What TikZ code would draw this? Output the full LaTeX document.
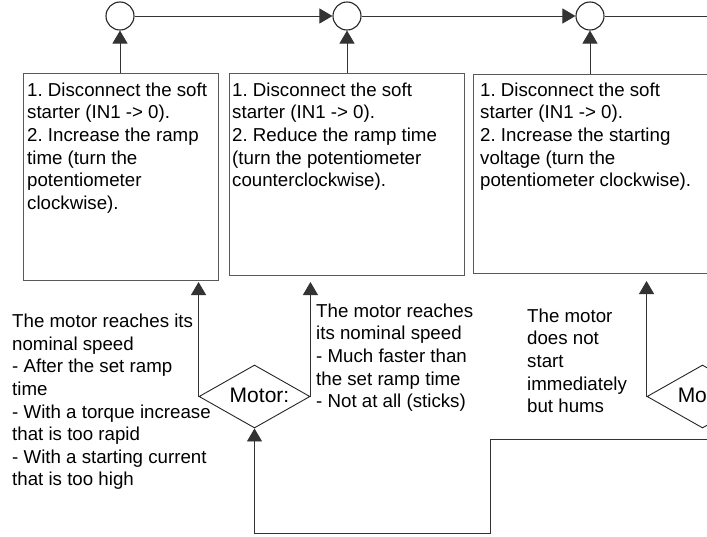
\documentclass[tikz,border=0pt]{standalone}
\usepackage{fontspec}
\setmainfont{Liberation Sans}
\usetikzlibrary{arrows.meta,shapes.geometric}
\frenchspacing
\begin{document}
\begin{tikzpicture}[x=1pt,y=-1pt,
  lbl/.style={inner sep=0pt,anchor=north west,align=left,font=\fontsize{18.7}{22.6}\selectfont,text=black},
  stepbox/.style={draw=black!65,line width=0.9pt,inner sep=0pt,rectangle},
  junc/.style={draw=black!85,line width=1.1pt,circle,minimum size=28pt,inner sep=0pt},
  decide/.style={draw=black!85,line width=0.9pt,diamond,minimum width=111pt,minimum height=63pt,inner sep=0pt},
  conn/.style={draw=black!80,line width=0.9pt},
  arr/.style={conn,-{Triangle[length=13pt,width=15pt]}}]
\useasboundingbox (0,0) rectangle (707,536);
\clip (0,0) rectangle (707,536);
\fill[white] (0,0) rectangle (707,536);

% junction circles
\node[junc] (c1) at (120,16) {};
\node[junc] (c2) at (347,16) {};
\node[junc] (c3) at (590,16) {};
\coordinate (topend) at (707,16);

% boxes
\node[stepbox,minimum width=195pt,minimum height=207pt] (b1) at (120.5,176.5) {};
\node[stepbox,minimum width=235pt,minimum height=202.5pt] (b2) at (346.5,174.25) {};
\node[stepbox,minimum width=234pt,minimum height=199pt] (b3) at (590,173.5) {};

\node[lbl] (t1) at (27,82.5) {1. Disconnect the soft\\starter (IN1 -> 0).\\2. Increase the ramp\\time (turn the\\potentiometer\\clockwise).};
\node[lbl] (t2) at (232,82.5) {1. Disconnect the soft\\starter (IN1 -> 0).\\2. Reduce the ramp time\\(turn the potentiometer\\counterclockwise).};
\node[lbl] (t3) at (480,82.5) {1. Disconnect the soft\\starter (IN1 -> 0).\\2. Increase the starting\\voltage (turn the\\potentiometer clockwise).};

% decisions
\node[decide] (d1) at (254.5,396.5) {};
\node[decide] (d2) at (702.5,396.5) {};
\node[inner sep=0pt,anchor=base,font=\fontsize{21}{25}\selectfont,text=black] (m1) at (259.5,402) {Motor:};
\node[inner sep=0pt,anchor=base,font=\fontsize{21}{25}\selectfont,text=black] (m2) at (707.5,402) {Motor:};

% condition labels
\node[lbl] (l1) at (12,314) {The motor reaches its\\nominal speed\\- After the set ramp\\time\\- With a torque increase\\that is too rapid\\- With a starting current\\that is too high};
\node[lbl] (l2) at (316,303.5) {The motor reaches\\its nominal speed\\- Much faster than\\the set ramp time\\- Not at all (sticks)};
\node[lbl] (l3) at (527,308.5) {The motor\\does not\\start\\immediately\\but hums};

% top connectors
\draw[arr] (c1) -- (c2);
\draw[arr] (c2) -- (c3);
\draw[conn] (c3) -- (topend);
\draw[arr] (b1.north -| c1) -- (c1.south);
\draw[arr] (b2.north -| c2) -- (c2.south);
\draw[arr] (b3.north -| c3) -- (c3.south);

% decision to box arrows
\draw[arr] (d1.west) -- (d1.west |- 0,282);
\draw[arr] (d1.east) -- (d1.east |- 0,282);
\draw[arr] (d2.west) -- (d2.west |- 0,281);

% return connector
\coordinate (rin) at (707,439);
\coordinate (kn) at (490,533);
\draw[arr] (rin) -| (kn) -| (d1.south);
\end{tikzpicture}
\end{document}
